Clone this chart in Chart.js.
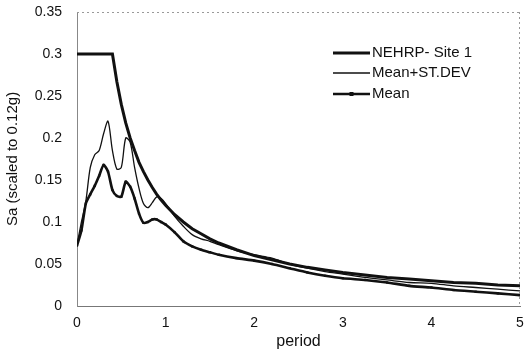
<!DOCTYPE html>
<html>
<head>
<meta charset="utf-8">
<script src="https://cdn.jsdelivr.net/npm/chart.js@4.4.1/dist/chart.umd.min.js"></script>
<style>
  html, body { margin: 0; padding: 0; background: #fff; }
  #wrap { width: 526px; height: 351px; }
</style>
</head>
<body>
<div id="wrap"><canvas id="spectrumChart"></canvas></div>
<script>
const periods = [0, 0.05, 0.1, 0.15, 0.2, 0.25, 0.3, 0.35, 0.4, 0.45, 0.5, 0.55, 0.6, 0.65, 0.7, 0.75,
    0.8, 0.85, 0.9, 0.95, 1.0, 1.1, 1.2, 1.3, 1.4, 1.5, 1.6, 1.8, 2.0, 2.2, 2.4, 2.6, 2.8, 3.0,
    3.25, 3.5, 3.75, 4.0, 4.25, 4.5, 4.75, 5.0];

const nehrpSite1 = [0.3, 0.3, 0.3, 0.3, 0.3, 0.3, 0.3, 0.3, 0.3, 0.267, 0.24, 0.218, 0.2, 0.185, 0.171, 0.16,
    0.15, 0.141, 0.133, 0.126, 0.12, 0.109, 0.1, 0.092, 0.086, 0.08, 0.075, 0.067, 0.06, 0.055, 0.05, 0.046, 0.043, 0.04,
    0.037, 0.034, 0.032, 0.03, 0.028, 0.027, 0.025, 0.024];

const meanPlusSd = [0.073, 0.1, 0.125, 0.165, 0.18, 0.185, 0.205, 0.22, 0.185, 0.163, 0.165, 0.2, 0.195, 0.165, 0.14, 0.122,
    0.117, 0.123, 0.13, 0.128, 0.122, 0.107, 0.095, 0.085, 0.08, 0.077, 0.073, 0.066, 0.061, 0.057, 0.05, 0.045, 0.041, 0.038,
    0.034, 0.031, 0.028, 0.027, 0.024, 0.022, 0.02, 0.018];

const meanSa = [0.072, 0.09, 0.122, 0.133, 0.143, 0.155, 0.168, 0.16, 0.138, 0.131, 0.13, 0.148, 0.142, 0.128, 0.11, 0.099,
    0.1, 0.103, 0.103, 0.1, 0.097, 0.088, 0.077, 0.071, 0.067, 0.064, 0.061, 0.057, 0.054, 0.05, 0.045, 0.04, 0.036, 0.033,
    0.031, 0.028, 0.024, 0.022, 0.019, 0.017, 0.015, 0.013];

const seriesLabels = ['NEHRP- Site 1', 'Mean+ST.DEV', 'Mean'];
const xTicks = [0, 1, 2, 3, 4, 5];
const yTicks = [0, 0.05, 0.1, 0.15, 0.2, 0.25, 0.3, 0.35];

const toPoints = (vals) => periods.map((p, i) => ({ x: p, y: vals[i] }));

// frame (dotted top/right) and legend inside the plot
const framePlugin = {
    id: 'frameAndLegend',
    afterDraw: (chart) => {
        const ctx = chart.ctx;
        const a = chart.chartArea;
        ctx.save();
        ctx.strokeStyle = '#999';
        ctx.lineWidth = 1;
        ctx.setLineDash([2, 3]);
        ctx.beginPath();
        ctx.moveTo(a.left, a.top + 0.5);
        ctx.lineTo(a.right, a.top + 0.5);
        ctx.moveTo(a.right - 0.5, a.top);
        ctx.lineTo(a.right - 0.5, a.bottom);
        ctx.stroke();
        ctx.setLineDash([]);

        // legend
        const x0 = 333, x1 = 370;
        const rows = [53, 73, 94];
        ctx.font = '15px "Liberation Sans", Arial, sans-serif';
        ctx.textBaseline = 'middle';
        ctx.textAlign = 'left';
        chart.data.datasets.forEach((ds, i) => {
            const y = rows[i];
            ctx.strokeStyle = ds.borderColor;
            ctx.lineWidth = ds.borderWidth;
            ctx.beginPath();
            ctx.moveTo(x0, y);
            ctx.lineTo(x1, y);
            ctx.stroke();
            if (ds.pointRadius > 0) {
                ctx.fillStyle = ds.borderColor;
                ctx.fillRect((x0 + x1) / 2 - 2, y - 2, 4, 4);
            }
            ctx.fillStyle = '#111';
            ctx.fillText(ds.label, x1 + 2, y);
        });
        ctx.restore();
    }
};

document.addEventListener('DOMContentLoaded', function () {
    const data = {
        datasets: [{
            label: seriesLabels[0],
            data: toPoints(nehrpSite1),
            borderColor: '#111',
            borderWidth: 3,
            pointRadius: 0,
            tension: 0
        }, {
            label: seriesLabels[1],
            data: toPoints(meanPlusSd),
            borderColor: '#111',
            borderWidth: 1.3,
            pointRadius: 0,
            tension: 0.3
        }, {
            label: seriesLabels[2],
            data: toPoints(meanSa),
            borderColor: '#111',
            borderWidth: 2.6,
            pointRadius: 1.6,
            pointStyle: 'rect',
            pointBackgroundColor: '#111',
            pointBorderWidth: 0,
            tension: 0.2
        }]
    };

    const config = {
        type: 'line',
        data: data,
        options: {
            responsive: true,
            maintainAspectRatio: false,
            animation: false,
            layout: { padding: { left: 0, right: 6, top: 12, bottom: 0 } },
            plugins: {
                legend: { display: false },
                tooltip: { enabled: false }
            },
            scales: {
                x: {
                    type: 'linear',
                    min: 0,
                    max: 5,
                    afterBuildTicks: (scale) => { scale.ticks = xTicks.map(v => ({ value: v })); },
                    afterFit: (scale) => {
                        scale.height = 45;
                        scale.paddingLeft = 0;
                        scale.paddingRight = 0;
                    },
                    grid: { display: false, drawTicks: false },
                    border: { display: true, color: '#777', width: 1 },
                    ticks: {
                        color: '#111',
                        padding: 9,
                        font: { family: '"Liberation Sans", Arial, sans-serif', size: 14 }
                    },
                    title: {
                        display: true,
                        text: 'period',
                        color: '#111',
                        padding: { top: 0, bottom: 0 },
                        font: { family: '"Liberation Sans", Arial, sans-serif', size: 16 }
                    }
                },
                y: {
                    min: 0,
                    max: 0.35,
                    afterBuildTicks: (scale) => { scale.ticks = yTicks.map(v => ({ value: v })); },
                    afterFit: (scale) => {
                        scale.width = 77;
                        scale.paddingTop = 0;
                        scale.paddingBottom = 0;
                    },
                    grid: { display: false, drawTicks: false },
                    border: { display: true, color: '#888', width: 1, dash: [2, 2] },
                    ticks: {
                        color: '#111',
                        padding: 15,
                        font: { family: '"Liberation Sans", Arial, sans-serif', size: 14 },
                        callback: (v) => String(Math.round(v * 100) / 100)
                    },
                    title: {
                        display: true,
                        text: 'Sa (scaled to 0.12g)',
                        color: '#111',
                        padding: { top: 4, bottom: 0 },
                        font: { family: '"Liberation Sans", Arial, sans-serif', size: 15 }
                    }
                }
            }
        },
        plugins: [framePlugin]
    };

    const spectrumChart = new Chart(
        document.getElementById('spectrumChart'),
        config
    );
});
</script>
</body>
</html>
